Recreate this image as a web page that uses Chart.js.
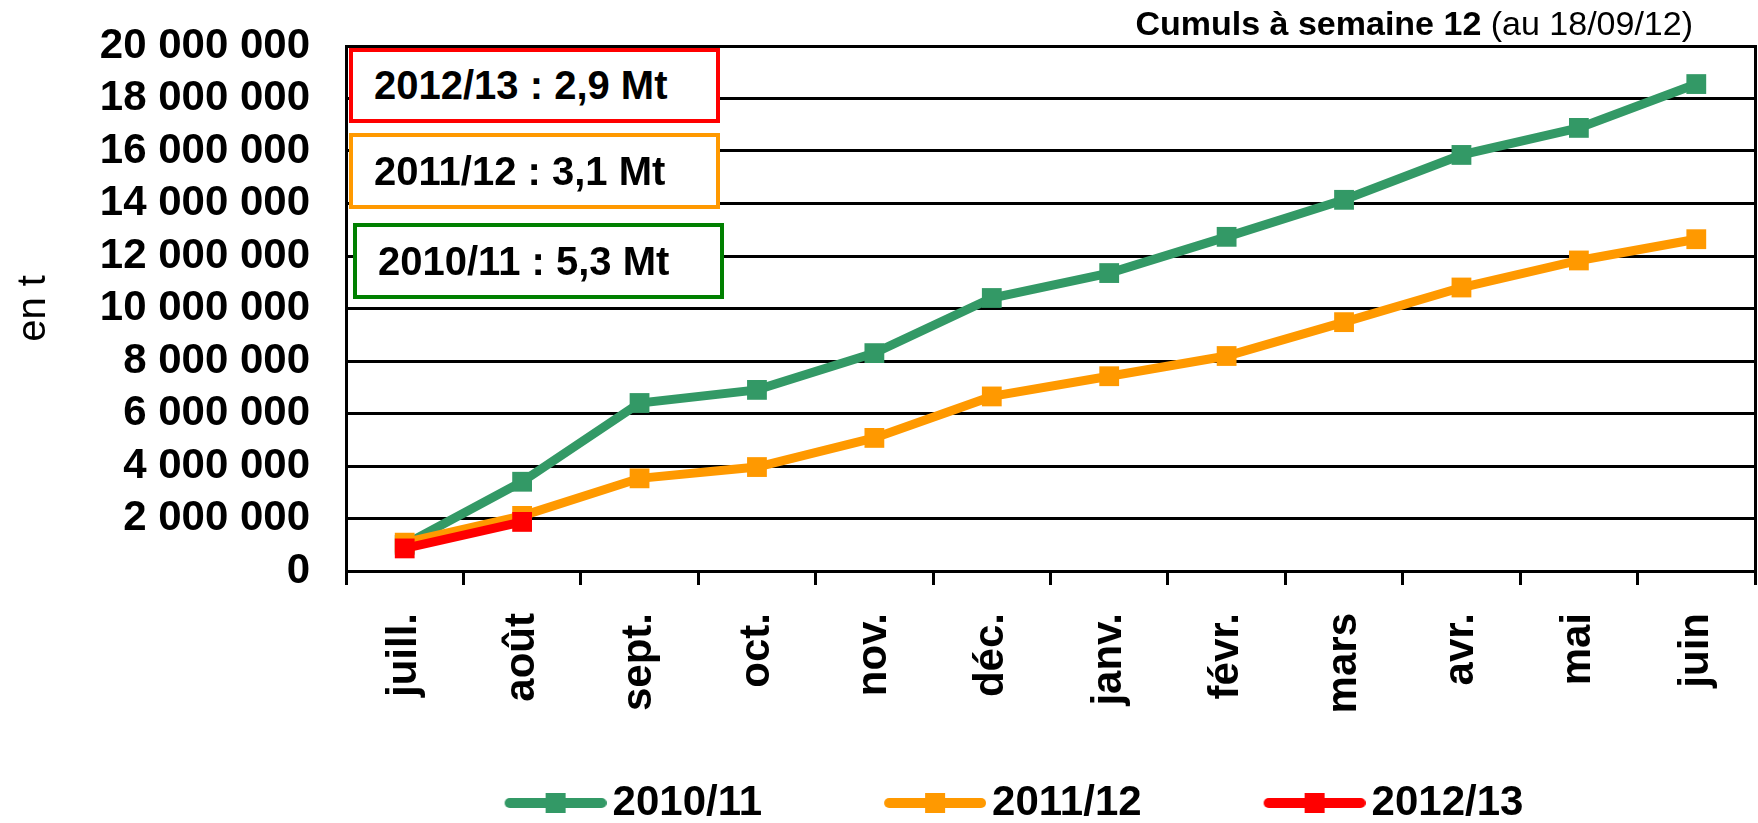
<!DOCTYPE html>
<html lang="fr">
<head>
<meta charset="utf-8">
<title>Cumuls à semaine 12</title>
<script src="https://cdn.jsdelivr.net/npm/chart.js@4/dist/chart.umd.min.js"></script>
<style>
  html, body { margin: 0; padding: 0; background: #fff; }
  #wrap { position: relative; width: 1758px; height: 823px; font-family: "Liberation Sans", Arial, sans-serif; }
  #wrap canvas { position: absolute; left: 0; top: 0; }
  .note {
    position: absolute; box-sizing: border-box; background: #fff;
    border: 4px solid; font-weight: bold; font-size: 40px; color: #000;
    padding-left: 21px; display: flex; align-items: center; white-space: nowrap;
  }
  #cumul { position: absolute; right: 65px; top: 4px; font-size: 34px; line-height: 38px; color: #000; white-space: nowrap; }
</style>
</head>
<body>
<div id="wrap">
  <canvas id="cumulsChart"></canvas>
  <div id="cumul"><b>Cumuls à semaine 12</b> (au 18/09/12)</div>
  <div class="note" style="left:349px; top:48px; width:371px; height:75px; border-color:#ff0000;">2012/13 : 2,9 Mt</div>
  <div class="note" style="left:349px; top:133px; width:371px; height:76px; border-color:#ff9900;">2011/12 : 3,1 Mt</div>
  <div class="note" style="left:353px; top:223px; width:371px; height:76px; border-color:#008000;">2010/11 : 5,3 Mt</div>
</div>
<script>
document.addEventListener('DOMContentLoaded', function() {

// mois de la campagne (juillet -> juin)
const mois = ['juill.', 'août', 'sept.', 'oct.', 'nov.', 'déc.', 'janv.', 'févr.', 'mars', 'avr.', 'mai', 'juin'];

// cumuls en tonnes
const cumul2010 = [1000000, 3400000, 6400000, 6900000, 8300000, 10400000, 11350000, 12730000, 14140000, 15850000, 16880000, 18550000];
const cumul2011 = [1080000, 2100000, 3530000, 3960000, 5070000, 6650000, 7420000, 8190000, 9480000, 10800000, 11830000, 12640000];
const cumul2012 = [860000, 1870000];

const campagnes = ['2010/11', '2011/12', '2012/13'];
const couleurs = ['#339966', '#ff9900', '#ff0000'];

const yMax = 20000000;
const yStep = 2000000;

const police = '"Liberation Sans", Arial, sans-serif';

// petit dessin trait + carré pour la légende
function echantillon(couleur) {
  const c = document.createElement('canvas');
  c.width = 235; c.height = 24;
  const g = c.getContext('2d');
  g.strokeStyle = couleur;
  g.lineWidth = 10;
  g.lineCap = 'round';
  g.beginPath(); g.moveTo(138, 12); g.lineTo(230, 12); g.stroke();
  g.fillStyle = couleur;
  g.fillRect(174, 2, 20, 20);
  return c;
}
const echantillons = couleurs.map(echantillon);

function milliers(v) {
  return String(v).replace(/\B(?=(\d{3})+(?!\d))/g, ' ');
}

function serie(label, data, couleur, ordre) {
  return {
    label: label,
    data: data,
    borderColor: couleur,
    backgroundColor: couleur,
    borderWidth: 9,
    pointStyle: 'rect',
    pointRadius: 14,
    pointHoverRadius: 14,
    pointBorderWidth: 0,
    pointBackgroundColor: couleur,
    tension: 0,
    order: ordre
  };
}

// décale la légende pour la caler sous le graphique comme l'original
const decaleLegende = {
  id: 'decaleLegende',
  afterLayout(chart) {
    chart.legend.left += 76;
    chart.legend.right += 76;
    chart.legend.top += 11;
    chart.legend.bottom += 11;
  }
};

const ctx = document.getElementById('cumulsChart').getContext('2d');
new Chart(ctx, {
  type: 'line',
  data: {
    labels: mois,
    datasets: [
      serie(campagnes[0], cumul2010, couleurs[0], 2),
      serie(campagnes[1], cumul2011, couleurs[1], 1),
      serie(campagnes[2], cumul2012, couleurs[2], 0)
    ]
  },
  options: {
    responsive: true,
    maintainAspectRatio: false,
    animation: false,
    layout: { autoPadding: false, padding: { top: 46, left: 0, right: 0, bottom: 0 } },
    plugins: {
      tooltip: { enabled: false },
      title: { display: false },
      legend: {
        position: 'bottom',
        align: 'center',
        labels: {
          usePointStyle: true,
          pointStyleWidth: 205,
          boxHeight: 42,
          padding: 4,
          color: '#000',
          font: { family: police, size: 42, weight: 'bold' },
          generateLabels: function(chart) {
            return chart.data.datasets.map(function(ds, i) {
              return {
                text: ds.label,
                pointStyle: echantillons[i],
                fillStyle: ds.borderColor,
                strokeStyle: ds.borderColor,
                lineWidth: 0,
                hidden: false,
                fontColor: '#000',
                datasetIndex: i
              };
            });
          }
        }
      }
    },
    scales: {
      x: {
        offset: true,
        grid: { offset: true, drawOnChartArea: false, drawTicks: true, tickLength: 14, color: '#000', lineWidth: 3 },
        border: { color: '#000', width: 3 },
        ticks: {
          color: '#000',
          font: { family: police, size: 42, weight: 'bold' },
          maxRotation: 90,
          minRotation: 90,
          autoSkip: false,
          padding: 28
        },
        afterFit: function(s) { s.height = 196; s.paddingLeft = 0; s.paddingRight = 0; }
      },
      y: {
        min: 0,
        max: yMax,
        grid: { color: '#000', lineWidth: 3, drawTicks: false },
        border: { color: '#000', width: 3 },
        ticks: {
          stepSize: yStep,
          autoSkip: false,
          color: '#000',
          padding: 36,
          font: { family: police, size: 42, weight: 'bold' },
          callback: function(v) { return milliers(v); }
        },
        title: {
          display: true,
          text: 'en t',
          color: '#000',
          font: { family: police, size: 40 },
          padding: { top: 10, bottom: 0 }
        },
        afterFit: function(s) { s.width = 346; s.paddingTop = 0; s.paddingBottom = 0; }
      },
      cadre: {
        position: 'right',
        display: true,
        grid: { drawOnChartArea: false, drawTicks: false },
        border: { color: '#000', width: 3 },
        ticks: { display: false },
        afterFit: function(s) { s.width = 3; s.paddingTop = 0; s.paddingBottom = 0; }
      }
    }
  },
  plugins: [decaleLegende]
});

});
</script>
</body>
</html>
